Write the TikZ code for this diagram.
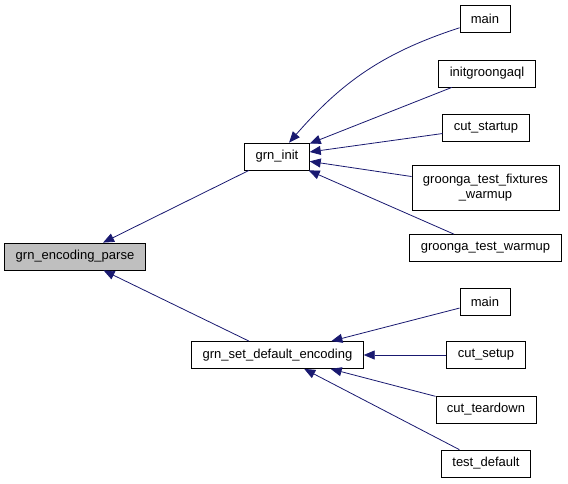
\documentclass[tikz,border=0pt]{standalone}
\usepackage{fontspec}
\setmainfont{Liberation Sans}
\usetikzlibrary{arrows.meta}
\definecolor{Edge}{HTML}{191970}
\definecolor{Hilite}{HTML}{BFBFBF}
\tikzset{
  >={Triangle[length=11pt,width=9pt]},
  fn/.style={draw=black,line width=.8pt,fill=white,minimum height=27pt,inner xsep=11pt,inner ysep=2pt,font=\fontsize{13}{15}\selectfont,align=center},
  cur/.style={fn,fill=Hilite},
  call/.style={->,line width=.8pt,draw=Edge}
}
\begin{document}
\begin{tikzpicture}[x=1pt,y=-1pt]
  \useasboundingbox (0,0) rectangle (568,483);
  % callee chain
  \node[cur] (parse) at (75,256.5) {grn\_encoding\_parse};
  \node[fn] (init) at (277,156.5) {grn\_init};
  \node[fn] (setenc) at (277.5,355) {grn\_set\_default\_encoding};
  % callers of grn_init
  \node[fn] (maina) at (485,18.5) {main};
  \node[fn] (initql) at (487,73.5) {initgroongaql};
  \node[fn] (startup) at (486,127.5) {cut\_startup};
  \node[fn,minimum height=45pt] (fixwarm) at (485.5,187.5) {groonga\_test\_fixtures\\\_warmup};
  \node[fn] (warm) at (485.5,248) {groonga\_test\_warmup};
  % callers of grn_set_default_encoding
  \node[fn] (mainb) at (485,301.5) {main};
  \node[fn] (setup) at (486,355) {cut\_setup};
  \node[fn] (teardown) at (486,409.5) {cut\_teardown};
  \node[fn] (testdef) at (486,463.5) {test\_default};
  \draw[call] (init) -- (parse);
  \draw[call] (setenc) -- (parse);
  \draw[call] (maina.200) to[out=198,in=49] (init);
  \draw[call] (initql) -- (init);
  \draw[call] (startup) -- (init);
  \draw[call] (fixwarm) -- (init);
  \draw[call] (warm) -- (init);
  \draw[call] (mainb) -- (setenc);
  \draw[call] (setup) -- (setenc);
  \draw[call] (teardown) -- (setenc);
  \draw[call] (testdef) -- (setenc);
\end{tikzpicture}
\end{document}
